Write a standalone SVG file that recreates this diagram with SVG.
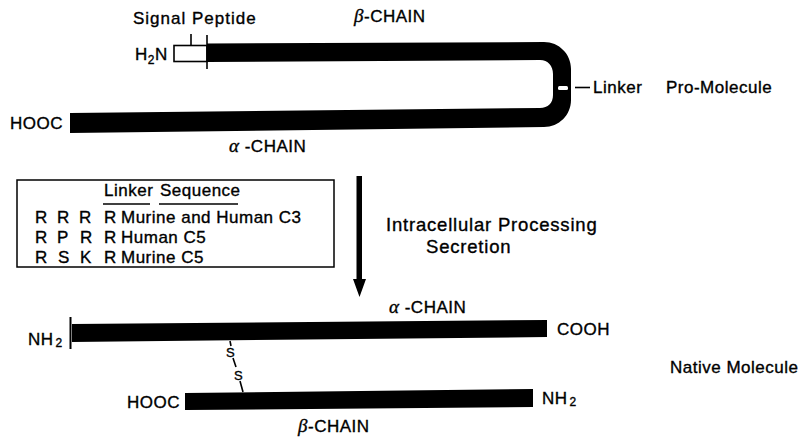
<svg xmlns="http://www.w3.org/2000/svg" width="803" height="443" viewBox="0 0 803 443">
<style>
.t{font-family:"Liberation Sans",Arial,sans-serif;font-size:17px;letter-spacing:0.5px;fill:#000;stroke:#000;stroke-width:0.35px}
.gr{font-family:"Liberation Serif","DejaVu Serif",serif;font-style:italic;font-size:19px}
.sub{font-size:12px}
.ln{stroke:#000;stroke-width:1.6;fill:none}
.bar{fill:#000}
</style>
<rect width="803" height="443" fill="#fff"/>

<g id="pro-molecule">
  <path class="bar" d="M207,43.5 L544,42 C559,42 571,54 571,69 L571,100 C571,115 559,127 544,127 L70,133 L70,113 L540,108 C548,108 553,103 553,95 L553,74 C553,66 548,60 540,60 L207,62 Z"/>
  <rect x="558" y="86" width="10" height="4" rx="1.5" fill="#fff"/>
  <rect x="174" y="45.5" width="33" height="16" fill="#fff" stroke="#000" stroke-width="1.6"/>
  <line class="ln" x1="191" y1="34" x2="191" y2="45.5"/>
  <line class="ln" x1="207" y1="35" x2="207" y2="69"/>
  <line class="ln" x1="575" y1="87.5" x2="590" y2="87.5"/>
  <text class="t" x="133" y="24" style="letter-spacing:1px">Signal Peptide</text>
  <text class="t" x="135" y="60">H<tspan class="sub" dy="4">2</tspan><tspan dy="-4">N</tspan></text>
  <text class="t" x="354" y="22"><tspan class="gr">β</tspan>-CHAIN</text>
  <text class="t" x="593" y="93">Linker</text>
  <text class="t" x="666" y="93">Pro-Molecule</text>
  <text class="t" x="10" y="129">HOOC</text>
  <text class="t" x="229" y="152"><tspan class="gr">α</tspan> -CHAIN</text>
</g>

<g id="linker-table">
  <rect x="17" y="180" width="317" height="87" fill="none" stroke="#000" stroke-width="1.5"/>
  <text class="t" x="104" y="196">Linker</text>
  <text class="t" x="160" y="196">Sequence</text>
  <line class="ln" x1="103" y1="204" x2="150" y2="204"/>
  <line class="ln" x1="159" y1="204" x2="238" y2="204"/>
  <text class="t" y="223"><tspan x="35">R</tspan><tspan x="57">R</tspan><tspan x="79">R</tspan><tspan x="104">R</tspan><tspan x="121">Murine and Human C3</tspan></text>
  <text class="t" y="243"><tspan x="35">R</tspan><tspan x="57">P</tspan><tspan x="80">R</tspan><tspan x="104">R</tspan><tspan x="121">Human C5</tspan></text>
  <text class="t" y="263"><tspan x="35">R</tspan><tspan x="58">S</tspan><tspan x="80">K</tspan><tspan x="104">R</tspan><tspan x="121">Murine C5</tspan></text>
</g>

<g id="processing">
  <polygon class="bar" points="356.5,176 362,176 362,279 366,279 359.5,297 353,279 356.5,279"/>
  <text class="t" x="386" y="231" style="font-size:18.5px;letter-spacing:0.8px">Intracellular Processing</text>
  <text class="t" x="426" y="253" style="font-size:18.5px;letter-spacing:0.8px">Secretion</text>
</g>

<g id="native-molecule">
  <polygon class="bar" points="72,324 547,320 547,337 72,342"/>
  <line x1="70.5" y1="317" x2="70.5" y2="349" stroke="#000" stroke-width="2"/>
  <polygon class="bar" points="185,393 533,389 533,407 185,410"/>
  <text class="t" x="389" y="313"><tspan class="gr">α</tspan> -CHAIN</text>
  <text class="t" x="28" y="345">NH<tspan class="sub" dy="2" dx="2">2</tspan></text>
  <text class="t" x="557" y="335">COOH</text>
  <text class="t" x="670" y="373">Native Molecule</text>
  <text class="t" x="127" y="408">HOOC</text>
  <text class="t" x="542" y="404">NH<tspan class="sub" dy="2" dx="2">2</tspan></text>
  <text class="t" x="298" y="432"><tspan class="gr">β</tspan>-CHAIN</text>
</g>

<g id="connectors">
  <line class="ln" x1="230" y1="341" x2="231" y2="346"/>
  <text class="t" x="226" y="357" style="font-size:13px;letter-spacing:0">S</text>
  <line class="ln" x1="233" y1="358" x2="236" y2="367"/>
  <text class="t" x="234" y="380" style="font-size:13px;letter-spacing:0">S</text>
  <line class="ln" x1="240" y1="381" x2="243" y2="392"/>
</g>
</svg>
